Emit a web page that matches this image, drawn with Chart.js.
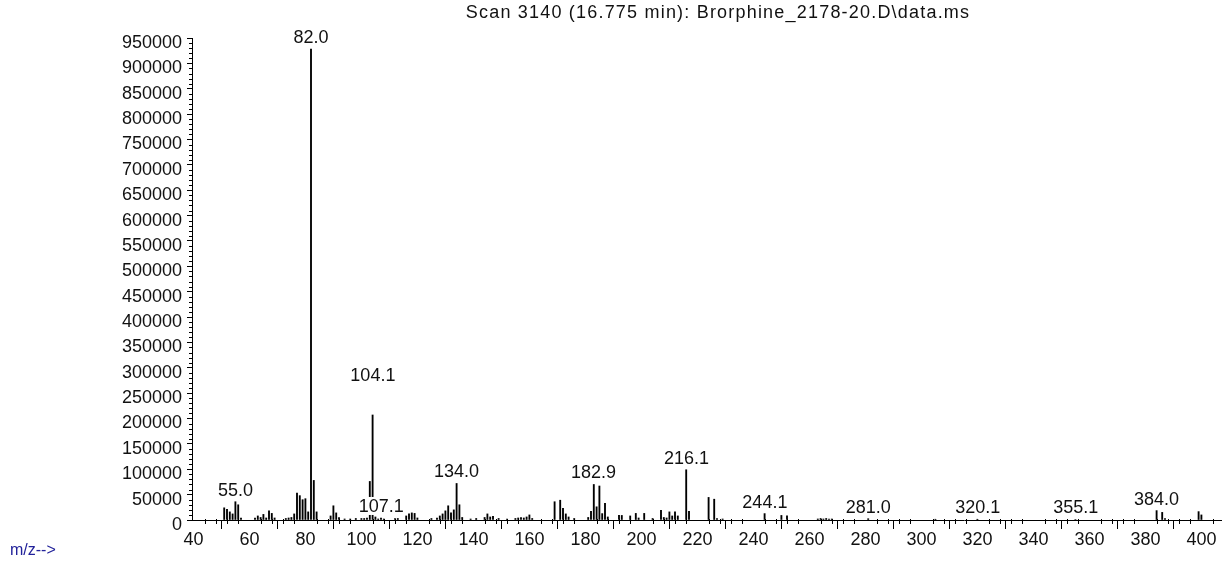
<!DOCTYPE html>
<html>
<head>
<meta charset="utf-8">
<script src="https://cdn.jsdelivr.net/npm/chart.js@4/dist/chart.umd.min.js"></script>
<style>
  html, body { margin: 0; padding: 0; background: #fff; }
  canvas { display: block; }
</style>
</head>
<body>
<canvas id="msChart" width="1231" height="561" style="width:1231px;height:561px"></canvas>
<script>
// spectrum: m/z and abundance
const mzValues = [
  51, 52, 53, 54, 55, 56, 57, 62, 63, 64, 65, 66, 67, 68, 69, 73, 74, 75, 76, 77,
  78, 79, 80, 81, 82, 83, 84, 89, 90, 91, 92, 94, 96, 98, 100, 101, 102, 103, 104, 105,
  106, 107, 108, 112, 113, 116, 117, 118, 119, 120, 125, 127, 128, 129, 130, 131, 132, 133, 134, 135,
  136, 139, 141, 144, 145, 146, 147, 149, 152, 155, 156, 157, 158, 159, 160, 161, 169, 171, 172, 173,
  174, 176, 181, 182, 183, 184, 185, 186, 187, 188, 192, 193, 196, 198, 199, 201, 204, 207, 208, 209,
  210, 211, 212, 213, 216, 217, 224, 226, 227, 229, 244, 250, 252, 263, 264, 265, 266, 267, 268, 281,
  305, 320, 355, 384, 386, 387, 399, 400
];
const abundance = [
  24000, 21000, 16000, 12000, 36000, 30000, 4000, 4000, 8000, 5000, 11000, 4000, 18000, 13000, 4000, 3000, 4000, 5000, 12000, 53000,
  48000, 40000, 42000, 16000, 928000, 78000, 16000, 8000, 28000, 14000, 5000, 2000, 2000, 3000, 3000, 3000, 4000, 76000, 207000, 6000,
  2000, 4000, 2000, 3000, 3000, 8000, 12000, 14000, 13000, 4000, 3000, 4000, 8000, 12000, 18000, 28000, 14000, 20000, 72000, 30000,
  5000, 2000, 3000, 5000, 12000, 6000, 7000, 3000, 2000, 3000, 4000, 5000, 4000, 6000, 10000, 3000, 36000, 39000, 23000, 12000,
  6000, 3000, 5000, 17000, 70000, 26000, 67000, 12600, 33000, 6000, 9000, 9000, 8000, 13000, 4000, 13000, 3000, 19000, 5000, 4000,
  16000, 8000, 16000, 8000, 99000, 17000, 44500, 41000, 3000, 2000, 12600, 9000, 8000, 2000, 3000, 2000, 3000, 2000, 2000, 2500,
  1500, 1500, 1000, 18500, 15000, 3000, 16500, 10000
];

// labelled peaks
const peakLabels = [55.0, 82.0, 104.1, 107.1, 134.0, 182.9, 216.1, 244.1, 281.0, 320.1, 355.1, 384.0];

// axes
const xMin = 39.5, xMax = 407, xStep = 20, xMinorStep = 4;
const yMin = 0, yMax = 950000, yStep = 50000, yMinorStep = 10000;

const titleText = "Scan 3140 (16.775 min): Brorphine_2178-20.D\\data.ms";
const xAxisText = "m/z-->";

const FONT = "Liberation Sans, Arial, sans-serif";

const overlay = {
  id: "overlay",
  afterDraw(chart) {
    const ctx = chart.ctx;
    const a = chart.chartArea;
    const x = chart.scales.x, y = chart.scales.y;
    ctx.save();

    // minor ticks
    ctx.strokeStyle = "#000";
    ctx.lineWidth = 1;
    ctx.beginPath();
    for (let v = 40; v <= xMax; v += xMinorStep) {
      if (v % xStep === 0) continue;
      const px = Math.round(x.getPixelForValue(v)) + 0.5;
      ctx.moveTo(px, a.bottom - 1);
      ctx.lineTo(px, a.bottom + 4);
    }
    for (let v = yMinorStep; v <= yMax; v += yMinorStep) {
      if (v % yStep === 0) continue;
      const py = Math.round(y.getPixelForValue(v)) + 0.5;
      ctx.moveTo(a.left - 3, py);
      ctx.lineTo(a.left, py);
    }
    ctx.stroke();

    // peak labels, each on a white patch that hides the sticks behind it
    ctx.font = "18px " + FONT;
    ctx.textAlign = "center";
    ctx.textBaseline = "alphabetic";
    peakLabels.forEach(function (m) {
      const idx = mzValues.indexOf(Math.round(m));
      const val = idx >= 0 ? abundance[idx] : 0;
      const lift = m === 104.1 ? 28 : 0; // this one sits higher in the original
      const cx = x.getPixelForValue(m);
      const by = y.getPixelForValue(val) - 6 - lift;
      const txt = m.toFixed(1);
      const w = ctx.measureText(txt).width;
      ctx.fillStyle = "#fff";
      ctx.fillRect(cx - w / 2 - 1, by - 15, w + 2, 18);
      ctx.fillStyle = "#111";
      ctx.fillText(txt, cx, by);
    });

    // title
    ctx.fillStyle = "#111";
    ctx.textBaseline = "middle";
    ctx.letterSpacing = "1.2px";
    ctx.fillText(titleText, 718, 13);
    ctx.letterSpacing = "0px";

    // m/z caption
    ctx.fillStyle = "#22229a";
    ctx.font = "16px " + FONT;
    ctx.textAlign = "left";
    ctx.textBaseline = "alphabetic";
    ctx.fillText(xAxisText, 10, 555);

    ctx.restore();
  }
};

new Chart(document.getElementById("msChart").getContext("2d"), {
  type: "bar",
  data: {
    datasets: [{
      data: mzValues.map((m, i) => ({ x: m, y: abundance[i] })),
      backgroundColor: "#000",
      borderWidth: 0,
      barThickness: 1.2
    }]
  },
  options: {
    responsive: false,
    animation: false,
    layout: { padding: { top: 38, right: 10, left: 0, bottom: 0 } },
    plugins: { legend: { display: false }, tooltip: { enabled: false }, title: { display: false } },
    scales: {
      x: {
        type: "linear",
        min: xMin,
        max: xMax,
        offset: false,
        grid: { drawOnChartArea: false, tickLength: 9, color: "#000" },
        border: { color: "#000" },
        ticks: {
          stepSize: xStep, includeBounds: false, autoSkip: false, maxRotation: 0,
          padding: 0, color: "#111", font: { family: FONT, size: 18 },
          callback: v => String(v)
        },
        afterFit(s) { s.height = 41; }
      },
      y: {
        min: yMin,
        max: yMax,
        grid: { drawOnChartArea: false, tickLength: 5, color: "#000" },
        border: { color: "#000" },
        ticks: {
          stepSize: yStep, includeBounds: false, padding: 5, labelOffset: 5,
          color: "#111", font: { family: FONT, size: 18 },
          callback: v => String(v)
        },
        afterFit(s) { s.width = 192; }
      }
    }
  },
  plugins: [overlay]
});
</script>
</body>
</html>
